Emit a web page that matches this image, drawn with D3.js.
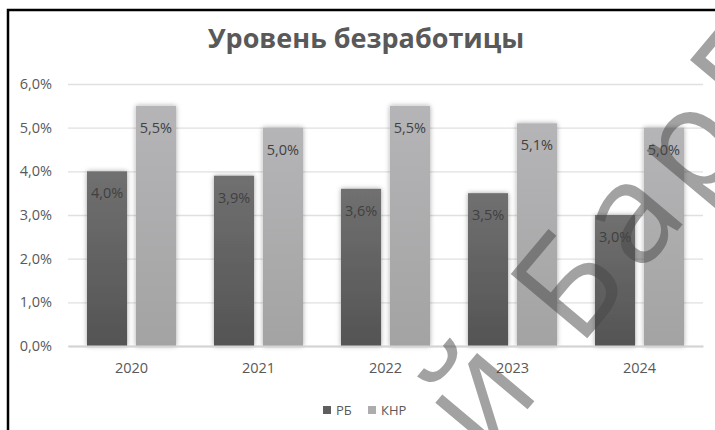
<!DOCTYPE html>
<meta charset="utf-8">
<style>
body { margin: 0; background: #fff; }
text { font-family: "Open Sans", sans-serif; }
.tick text { font-size: 14.5px; fill: #595959; }
.lbl { font-size: 14.5px; fill: #404040; }
</style>
<body>
<script src="https://d3js.org/d3.v7.min.js"></script>
<script>
const years = ["2020", "2021", "2022", "2023", "2024"];
const series = ["РБ", "КНР"];
const rb = [4.0, 3.9, 3.6, 3.5, 3.0];
const knr = [5.5, 5.0, 5.5, 5.1, 5.0];
const yTicks = [0, 1, 2, 3, 4, 5, 6];

const width = 715, height = 430;
const svg = d3.select("body").append("svg")
    .attr("width", width)
    .attr("height", height);

const defs = svg.append("defs");
const f = defs.append("filter").attr("id", "glow")
    .attr("x", "-30%").attr("y", "-10%").attr("width", "160%").attr("height", "120%");
f.append("feDropShadow").attr("dx", 0).attr("dy", 0).attr("stdDeviation", 2.5)
    .attr("flood-color", "#000").attr("flood-opacity", 0.35);

const grads = { "РБ": ["#707070", "#545454"], "КНР": ["#b5b5b8", "#a3a3a3"] };
Object.keys(grads).forEach((k, i) => {
  const g = defs.append("linearGradient").attr("id", "g" + i)
      .attr("x1", 0).attr("y1", 0).attr("x2", 0).attr("y2", 1);
  g.append("stop").attr("offset", "0%").attr("stop-color", grads[k][0]);
  g.append("stop").attr("offset", "100%").attr("stop-color", grads[k][1]);
});
const fill = d3.scaleOrdinal().domain(series).range(["url(#g0)", "url(#g1)"]);
const swatch = d3.scaleOrdinal().domain(series).range(["#5e5e5e", "#adadad"]);

const x = d3.scaleBand().domain(years).range([68, 703]);
const x1 = d3.scaleBand().domain(series).range([19, 108]).paddingInner(0.18);
const y = d3.scaleLinear().domain([0, 6]).range([346, 84]);
const fmt = v => d3.format(".1f")(v).replace(".", ",") + "%";

// gridlines + y labels
const ya = svg.append("g")
    .attr("transform", "translate(68,0)")
    .call(d3.axisLeft(y).tickValues(yTicks).tickSize(-635).tickFormat(fmt).tickPadding(16));
ya.select(".domain").remove();
ya.selectAll(".tick line").attr("stroke", "#e0e0e0").attr("stroke-width", 1.3);

// bars
const rows = years.map((yr, i) => ({ year: yr, vals: [ { s: "РБ", v: rb[i] }, { s: "КНР", v: knr[i] } ] }));
const grp = svg.append("g").selectAll("g")
    .data(rows).join("g")
    .attr("transform", d => `translate(${x(d.year)},0)`);

grp.selectAll("rect")
    .data(d => d.vals).join("rect")
    .attr("x", d => x1(d.s))
    .attr("width", x1.bandwidth())
    .attr("y", d => y(d.v))
    .attr("height", d => y(0) - y(d.v))
    .attr("fill", d => fill(d.s))
    .attr("filter", "url(#glow)");

grp.selectAll("text.lbl")
    .data(d => d.vals).join("text")
    .attr("class", "lbl")
    .attr("x", d => x1(d.s) + x1.bandwidth() / 2)
    .attr("y", d => y(d.v) + 22)
    .attr("dy", "0.35em")
    .attr("text-anchor", "middle")
    .text(d => fmt(d.v));

// x axis
const xa = svg.append("g")
    .attr("transform", `translate(0,${y(0)})`)
    .call(d3.axisBottom(x).tickSize(0).tickPadding(17));
xa.select(".domain").attr("stroke", "#d4d4d4").attr("stroke-width", 2);

// title
svg.append("text")
    .attr("x", 366).attr("y", 48)
    .attr("text-anchor", "middle")
    .style("font-size", "27px").style("font-weight", "bold")
    .attr("fill", "#595959")
    .text("Уровень безработицы");

// legend
const leg = svg.append("g").selectAll("g")
    .data(series).join("g")
    .attr("transform", (d, i) => `translate(${[323, 368][i]},410)`);
leg.append("rect").attr("x", 0).attr("y", -4).attr("width", 8).attr("height", 8)
    .attr("fill", d => swatch(d));
leg.append("text").attr("x", 13).attr("dy", "0.35em")
    .style("font-size", "13px").attr("fill", "#595959")
    .text(d => d);

// watermark
svg.append("text")
    .attr("transform", "translate(485,460) rotate(-50)")
    .style("font-size", "140px")
    .style("letter-spacing", "10px")
    .attr("fill", "rgba(70,70,70,0.5)")
    .text("й БарГУ");

// frame
svg.append("path")
    .attr("d", "M8,430V10H715")
    .attr("fill", "none").attr("stroke", "#000").attr("stroke-width", 2.5);
</script>
</body>
